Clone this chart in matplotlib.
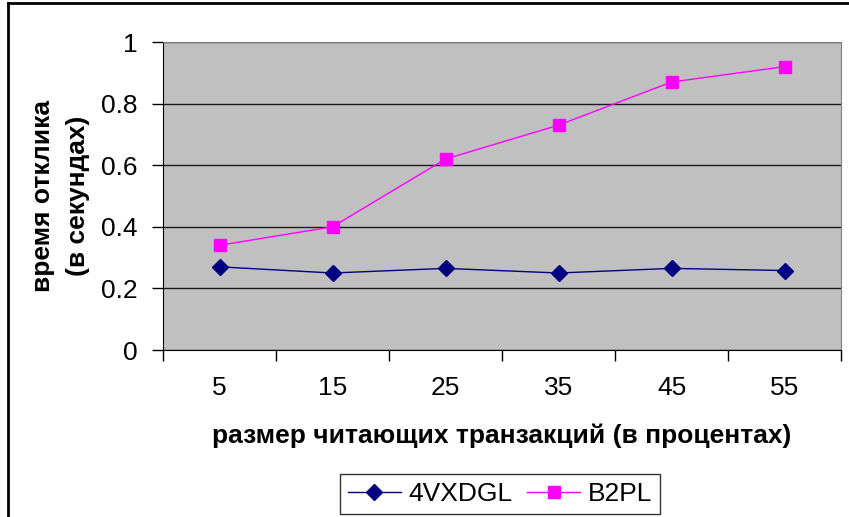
import matplotlib.pyplot as plt
from matplotlib.lines import Line2D

plt.rcParams['font.family'] = ['Liberation Sans', 'DejaVu Sans']

# Данные
categories = ['5', '15', '25', '35', '45', '55']
vals_4vxdgl = [0.27, 0.25, 0.265, 0.25, 0.265, 0.258]
vals_b2pl = [0.34, 0.40, 0.62, 0.73, 0.87, 0.92]
y_ticks = [0, 0.2, 0.4, 0.6, 0.8, 1]
y_tick_labels = ['0', '0.2', '0.4', '0.6', '0.8', '1']

fig = plt.figure(figsize=(8.49, 5.17), dpi=100)
ax = fig.add_axes([163 / 849, 1 - 350 / 517, (841 - 163) / 849, (350 - 42) / 517])

x = list(range(len(categories)))
ax.plot(x, vals_4vxdgl, color='#000080', linewidth=1, marker='D', markersize=8,
        label='4VXDGL', zorder=3)
ax.plot(x, vals_b2pl, color='#FF00FF', linewidth=1, marker='s', markersize=9,
        label='B2PL', zorder=3)

ax.set_facecolor('#C0C0C0')
ax.set_xlim(-0.5, len(categories) - 0.5)
ax.set_ylim(0, 1)

ax.set_yticks(y_ticks)
ax.set_yticklabels(y_tick_labels)
ax.yaxis.grid(True, color='#1a1a1a', linewidth=1)
ax.set_axisbelow(True)

# тики между категориями
ax.set_xticks([i - 0.5 for i in range(len(categories) + 1)])
ax.set_xticklabels([])
ax.set_xticks(x, minor=True)
ax.set_xticklabels(categories, minor=True)
ax.tick_params(axis='x', which='major', direction='out', length=8, width=1, color='#000000')
ax.tick_params(axis='x', which='minor', length=0, pad=19, labelsize=19)
ax.tick_params(axis='y', direction='out', length=8, width=1, labelsize=19, pad=10)

for side in ['top', 'right']:
    ax.spines[side].set_color('#808080')
ax.spines['left'].set_color('#000000')
ax.spines['bottom'].set_color('#000000')

ax.set_xlabel('размер читающих транзакций (в процентах)', fontsize=19,
              fontweight='bold', labelpad=17)
ax.set_ylabel('время отклика\n(в секундах)', fontsize=19, fontweight='bold',
              labelpad=8, linespacing=1.6)

handles = [
    Line2D([], [], color='#000080', linewidth=1, marker='D', markersize=8),
    Line2D([], [], color='#FF00FF', linewidth=1, marker='s', markersize=9),
]
leg = fig.legend(handles, ['4VXDGL', 'B2PL'], loc='center',
                 bbox_to_anchor=(500 / 849, 1 - 494 / 517), ncol=2, fontsize=19,
                 frameon=True, fancybox=False, edgecolor='#000000',
                 handlelength=2.0, columnspacing=0.55, handletextpad=0.3,
                 borderpad=0.3, borderaxespad=0)
leg.get_frame().set_linewidth(1)

# рамка диаграммы (видны только левая и верхняя стороны)
fig.add_artist(Line2D([8 / 849, 8 / 849], [0, 1 - 3 / 517], color='#000000',
                      linewidth=2, transform=fig.transFigure))
fig.add_artist(Line2D([8 / 849, 1], [1 - 3 / 517, 1 - 3 / 517], color='#000000',
                      linewidth=2, transform=fig.transFigure))

fig.savefig('out.png', dpi=100)
